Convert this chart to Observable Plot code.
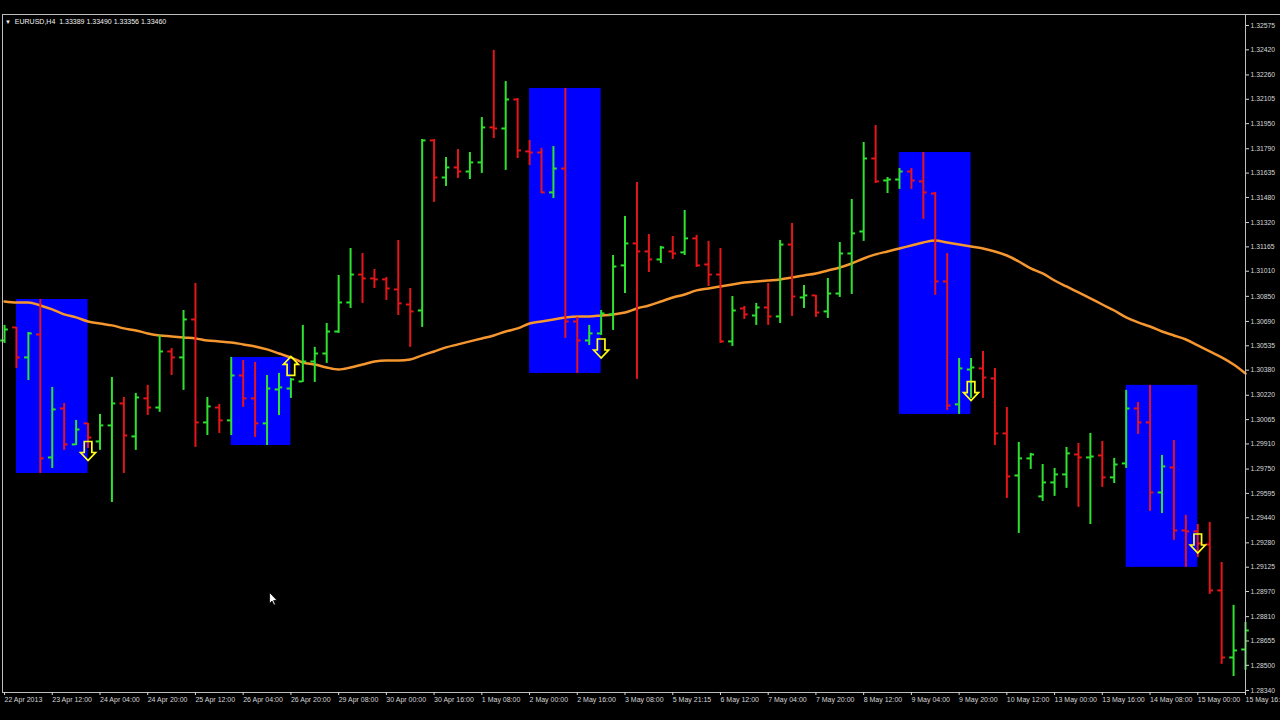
<!DOCTYPE html>
<html><head><meta charset="utf-8">
<script src="https://cdn.jsdelivr.net/npm/d3@7"></script>
<script src="https://cdn.jsdelivr.net/npm/@observablehq/plot@0.6"></script>
<style>
html,body{margin:0;padding:0;background:#000;overflow:hidden;}
#chart{position:relative;width:1280px;height:720px;background:#000;}
#header{position:absolute;left:5px;top:18px;font:7px "Liberation Sans",Arial,sans-serif;color:#f0f0f0;white-space:pre;}
#header .tri{font-size:6px;}
#topline{position:absolute;left:1245px;top:14px;width:35px;height:1px;background:#bdbdbd;}
</style></head><body>
<div id="chart"><div id="topline"></div><div id="header"><span class="tri">▼</span>  EURUSD,H4  1.33389 1.33490 1.33356 1.33460</div></div>
<script>
// EURUSD H4 OHLC bars (index 0 .. 104)
const open = [1.30569,1.30652,1.30461,1.30607,1.29824,1.30136,1.29907,1.30041,1.29926,1.30028,
1.30168,1.29958,1.30200,1.30142,1.30499,1.30461,1.30703,1.30047,1.30142,1.30060,
1.30346,1.30200,1.30041,1.30257,1.30263,1.30308,1.30435,1.30486,1.30626,1.30811,
1.30989,1.30964,1.30958,1.30894,1.30798,1.30760,1.31843,1.31607,1.31671,1.31645,
1.31703,1.31926,1.31919,1.32104,1.31773,1.31766,1.31512,1.31664,1.30690,1.30569,
1.30614,1.30735,1.31047,1.31187,1.31136,1.31085,1.31136,1.31130,1.31219,1.31053,
1.30989,1.30563,1.30773,1.30728,1.30779,1.30722,1.31180,1.30843,1.30856,1.30754,
1.30868,1.31123,1.31263,1.31728,1.31588,1.31594,1.31645,1.31582,1.31505,1.30945,
1.30162,1.30384,1.30391,1.30327,1.29977,1.29709,1.29818,1.29576,1.29665,1.29716,
1.29843,1.29824,1.29837,1.29697,1.29786,1.30136,1.30047,1.29601,1.29760,1.29359,
1.29353,1.29270,1.28977,1.28550,1.28601];
const high = [1.30665,1.30652,1.30620,1.30830,1.30270,1.30168,1.30060,1.30041,1.30098,1.30333,
1.30206,1.30232,1.30283,1.30601,1.30518,1.30760,1.30932,1.30206,1.30162,1.30461,
1.30442,1.30429,1.30346,1.30359,1.30327,1.30665,1.30525,1.30677,1.30983,1.31155,
1.31123,1.31021,1.30970,1.31206,1.30900,1.31849,1.31849,1.31734,1.31785,1.31766,
1.31989,1.32416,1.32218,1.32110,1.31843,1.31792,1.31804,1.32174,1.30716,1.30665,
1.30760,1.31110,1.31359,1.31575,1.31244,1.31168,1.31231,1.31397,1.31238,1.31200,
1.31155,1.30849,1.30786,1.30805,1.30932,1.31206,1.31314,1.30919,1.30856,1.30964,
1.31193,1.31467,1.31830,1.31938,1.31607,1.31664,1.31664,1.31766,1.31512,1.31123,
1.30454,1.30454,1.30499,1.30391,1.30142,1.29920,1.29850,1.29779,1.29754,1.29888,
1.29913,1.29977,1.29926,1.29818,1.30251,1.30174,1.30283,1.29837,1.29932,1.29455,
1.29397,1.29410,1.29155,1.28882,1.28773];
const low = [1.30550,1.30391,1.30314,1.29722,1.29754,1.29869,1.29900,1.29881,1.29869,1.29537,
1.29722,1.29869,1.30091,1.30111,1.30346,1.30251,1.29888,1.29964,1.29977,1.29964,
1.30142,1.29951,1.29900,1.30091,1.30200,1.30302,1.30302,1.30423,1.30614,1.30773,
1.30805,1.30900,1.30824,1.30728,1.30525,1.30652,1.31448,1.31550,1.31601,1.31594,
1.31633,1.31855,1.31652,1.31728,1.31683,1.31505,1.31473,1.30582,1.30359,1.30537,
1.30601,1.30633,1.30868,1.30321,1.31002,1.31059,1.31085,1.31110,1.31034,1.30913,
1.30550,1.30531,1.30703,1.30665,1.30665,1.30677,1.30722,1.30773,1.30716,1.30709,
1.30843,1.30862,1.31200,1.31569,1.31505,1.31531,1.31531,1.31340,1.30856,1.30123,
1.30098,1.30200,1.30200,1.29900,1.29563,1.29340,1.29748,1.29544,1.29576,1.29627,
1.29506,1.29397,1.29633,1.29658,1.29754,1.29970,1.29480,1.29467,1.29296,1.29124,
1.29187,1.28952,1.28506,1.28429,1.28468];
const close = [1.30639,1.30461,1.30614,1.29818,1.30130,1.29907,1.30002,1.29951,1.30028,1.30168,
1.29964,1.30206,1.30142,1.30499,1.30461,1.30703,1.30047,1.30149,1.30060,1.30346,
1.30200,1.30041,1.30263,1.30270,1.30321,1.30435,1.30486,1.30626,1.30811,1.30989,
1.30964,1.30958,1.30900,1.30805,1.30754,1.31843,1.31607,1.31671,1.31645,1.31703,
1.31926,1.31919,1.32104,1.31779,1.31766,1.31512,1.31664,1.30690,1.30569,1.30614,
1.30741,1.31040,1.31187,1.31136,1.31085,1.31161,1.31123,1.31219,1.31047,1.30989,
1.30563,1.30760,1.30735,1.30779,1.30722,1.31180,1.30849,1.30856,1.30747,1.30868,
1.31123,1.31251,1.31728,1.31582,1.31594,1.31645,1.31588,1.31512,1.30945,1.30155,
1.30391,1.30397,1.30333,1.29977,1.29703,1.29818,1.29843,1.29665,1.29716,1.29850,
1.29824,1.29830,1.29697,1.29779,1.30136,1.30047,1.29601,1.29767,1.29359,1.29353,
1.29276,1.28977,1.28550,1.28595,1.28722];
// moving average (orange line)
const ma = [1.30817,1.30811,1.30811,1.30792,1.30767,1.30735,1.30716,1.30690,1.30677,1.30665,
1.30646,1.30633,1.30614,1.30601,1.30595,1.30588,1.30582,1.30569,1.30563,1.30556,
1.30544,1.30531,1.30512,1.30486,1.30461,1.30429,1.30416,1.30397,1.30384,1.30397,
1.30416,1.30435,1.30442,1.30442,1.30448,1.30474,1.30499,1.30525,1.30544,1.30563,
1.30582,1.30601,1.30626,1.30646,1.30677,1.30690,1.30703,1.30716,1.30722,1.30722,
1.30728,1.30735,1.30747,1.30773,1.30792,1.30817,1.30843,1.30862,1.30888,1.30900,
1.30913,1.30926,1.30938,1.30945,1.30951,1.30958,1.30970,1.30983,1.30996,1.31015,
1.31034,1.31059,1.31091,1.31117,1.31136,1.31155,1.31174,1.31193,1.31206,1.31193,
1.31180,1.31168,1.31155,1.31136,1.31110,1.31072,1.31028,1.30996,1.30951,1.30913,
1.30875,1.30837,1.30798,1.30760,1.30716,1.30684,1.30658,1.30626,1.30601,1.30575,
1.30537,1.30499,1.30461,1.30416,1.30359];
// blue range boxes (first bar, last bar)
const boxStart = [1, 19, 44, 75, 94];
const boxEnd   = [7, 24, 50, 81, 100];
// signal arrows
const arrowBar   = [7, 24, 50, 81, 100];
const arrowPrice = [1.29865, 1.30407, 1.30518, 1.30247, 1.29276];
const arrowDir   = ["down", "up", "down", "down", "down"];
// mouse pointer position (bar, price)
const cursorBar = [22.21];
const cursorPrice = [1.28964];
// axis ticks
const priceTicks = [1.32575,1.32420,1.32260,1.32105,1.31950,1.31790,1.31635,1.31480,1.31320,1.31165,
1.31010,1.30850,1.30690,1.30535,1.30380,1.30220,1.30065,1.29910,1.29750,1.29595,1.29440,1.29280,
1.29125,1.28970,1.28810,1.28655,1.28500,1.28340];
const timeTickBars = [0,4,8,12,16,20,24,28,32,36,40,44,48,52,56,60,64,68,72,76,80,84,88,92,96,100,104];
const timeTickLabels = ["22 Apr 2013","23 Apr 12:00","24 Apr 04:00","24 Apr 20:00","25 Apr 12:00",
"26 Apr 04:00","26 Apr 20:00","29 Apr 08:00","30 Apr 00:00","30 Apr 16:00","1 May 08:00",
"2 May 00:00","2 May 16:00","3 May 08:00","5 May 21:15","6 May 12:00","7 May 04:00","7 May 20:00",
"8 May 12:00","9 May 04:00","9 May 20:00","10 May 12:00","13 May 00:00","13 May 16:00",
"14 May 08:00","15 May 00:00","15 May 16:00"];

const GREEN = "#2fe22f", RED = "#e5161a", BLUE = "#0000ff", ORANGE = "#f5962f", YELLOW = "#ffff1a";
const bars = open.map((o, i) => ({i, open: o, high: high[i], low: low[i], close: close[i], up: close[i] >= o}));
const upBars = bars.filter(d => d.up), downBars = bars.filter(d => !d.up);
const maData = ma.map((v, i) => ({i, v}));
const boxes = boxStart.map((s, k) => ({
  x1: s, x2: boxEnd[k],
  y1: d3.min(low.slice(s, boxEnd[k] + 1)),
  y2: d3.max(high.slice(s, boxEnd[k] + 1))
}));
const arrows = arrowBar.map((b, k) => ({i: b, p: arrowPrice[k], dir: arrowDir[k]}));
const cursor = cursorBar.map((b, k) => ({i: b, p: cursorPrice[k]}));
const labelByBar = new Map(timeTickBars.map((b, k) => [b, timeTickLabels[k]]));

const downArrow = {draw(c) {
  c.moveTo(-3.8, -9.5); c.lineTo(3.8, -9.5); c.lineTo(3.8, 1.5); c.lineTo(7.5, 1.5);
  c.lineTo(0, 9.5); c.lineTo(-7.5, 1.5); c.lineTo(-3.8, 1.5); c.closePath();
}};
const upArrow = {draw(c) {
  c.moveTo(-3.8, 9.5); c.lineTo(3.8, 9.5); c.lineTo(3.8, -1.5); c.lineTo(7.5, -1.5);
  c.lineTo(0, -9.5); c.lineTo(-7.5, -1.5); c.lineTo(-3.8, -1.5); c.closePath();
}};
const pointer = {draw(c) {
  c.moveTo(0, 0); c.lineTo(0, 11); c.lineTo(2.5, 8.6); c.lineTo(4.3, 12.6); c.lineTo(5.9, 11.9);
  c.lineTo(4.1, 8); c.lineTo(7.6, 8); c.closePath();
}};

function barMarks(data, color) {
  return [
    Plot.ruleX(data, {x: "i", y1: "low", y2: "high", stroke: color, strokeWidth: 2}),
    Plot.ruleY(data, {y: "open", x1: d => d.i - 0.32, x2: "i", stroke: color, strokeWidth: 2}),
    Plot.ruleY(data, {y: "close", x1: "i", x2: d => d.i + 0.32, stroke: color, strokeWidth: 2})
  ];
}

const chart = Plot.plot({
  width: 1280, height: 720,
  marginLeft: 2, marginRight: 35, marginTop: 14, marginBottom: 28,
  style: {background: "#000", color: "#d2d2d2", fontFamily: "'Liberation Sans', Arial, sans-serif", fontSize: "7px"},
  x: {type: "linear", domain: [-0.17, 104]},
  y: {type: "linear", domain: [1.28327, 1.32645]},
  marks: [
    Plot.rect(boxes, {x1: "x1", x2: "x2", y1: "y1", y2: "y2", fill: BLUE}),
    Plot.line(maData, {x: "i", y: "v", stroke: ORANGE, strokeWidth: 2.5, curve: "monotone-x"}),
    ...barMarks(upBars, GREEN),
    ...barMarks(downBars, RED),
    Plot.dot(arrows.filter(d => d.dir === "down"), {x: "i", y: "p", symbol: downArrow, r: 6, fill: "none", stroke: YELLOW, strokeWidth: 1.7}),
    Plot.dot(arrows.filter(d => d.dir === "up"), {x: "i", y: "p", symbol: upArrow, r: 6, fill: "none", stroke: YELLOW, strokeWidth: 1.7}),
    Plot.dot(cursor, {x: "i", y: "p", symbol: pointer, r: 5, fill: "#ffffff", stroke: "#000", strokeWidth: 0.8}),
    Plot.frame({stroke: "#bdbdbd"}),
    Plot.axisY(priceTicks, {anchor: "right", tickSize: 3, tickPadding: 2, tickFormat: d => d.toFixed(5), fontSize: 6.8, color: "#d6d6d6"}),
    Plot.axisX(timeTickBars, {anchor: "bottom", tickSize: 3, tickPadding: 2, tickFormat: d => labelByBar.get(d), textAnchor: "start", dx: 0, fontSize: 7, color: "#d6d6d6"})
  ]
});
document.getElementById("chart").prepend(chart);
</script>
</body></html>
